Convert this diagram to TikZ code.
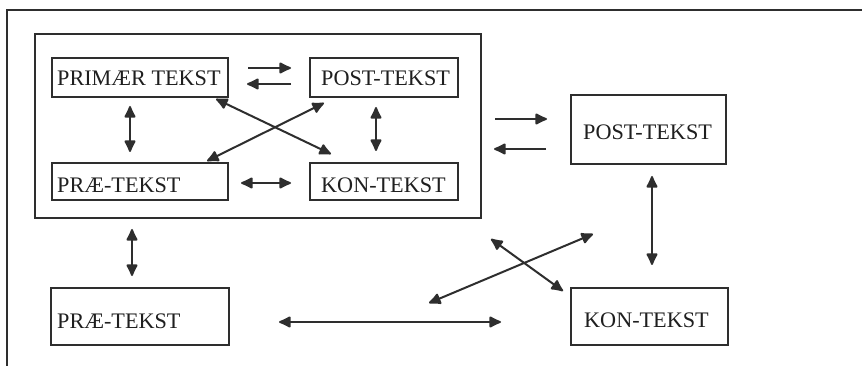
\documentclass[tikz,border=0pt]{standalone}
\usepackage{fontspec}
\setmainfont{Liberation Serif}
\usetikzlibrary{arrows.meta}
\begin{document}
\begin{tikzpicture}[x=1pt,y=-1pt,
  ink/.style={draw=black!82},
  box/.style={ink, line width=2pt, rectangle, inner sep=0pt},
  lbl/.style={anchor=base west, inner sep=0pt, font=\fontsize{22.2}{25}\selectfont, text=black!88},
  conn/.style={ink, line width=2pt},
  tip/.tip={Latex[length=14pt,width=13pt,round]},
  one/.style={conn, -tip},
  two/.style={conn, tip-tip}]
\useasboundingbox (0,0) rectangle (865,366);
\fill[white] (0,0) rectangle (865,366);

% open outer frame: top and left sides only
\draw[ink, line width=2pt] (7,366) -- (7,10) -- (862,10);

% inner frame
\node[box, minimum width=446pt, minimum height=184pt] (frame) at (258,126) {};

% boxes inside the frame
\node[box, minimum width=176pt, minimum height=39pt] (prim) at (140,77.5) {};
\node[lbl] (primt) at (57,86) {PRIMÆR TEKST};
\node[box, minimum width=148pt, minimum height=39pt] (posti) at (384,77.5) {};
\node[lbl] (postit) at (321,86) {POST-TEKST};
\node[box, minimum width=176pt, minimum height=37pt] (praei) at (140,181.5) {};
\node[lbl] (praeit) at (57,193) {PRÆ-TEKST};
\node[box, minimum width=148pt, minimum height=37pt] (koni) at (384,181.5) {};
\node[lbl] (konit) at (321,193) {KON-TEKST};

% outer boxes
\node[box, minimum width=155pt, minimum height=69pt] (posto) at (648.5,129.5) {};
\node[lbl] (postot) at (583,140) {POST-TEKST};
\node[box, minimum width=157pt, minimum height=57pt] (kono) at (649.5,316.5) {};
\node[lbl] (konot) at (584,327) {KON-TEKST};
\node[box, minimum width=178pt, minimum height=57pt] (praeo) at (140,316.5) {};
\node[lbl] (praeot) at (57,328) {PRÆ-TEKST};

% arrow end points
\coordinate (a1) at (248,68);  \coordinate (a2) at (291,68);
\coordinate (b1) at (291,84);  \coordinate (b2) at (247,84);
\coordinate (c1) at (130,106); \coordinate (c2) at (130,152);
\coordinate (d1) at (376,107); \coordinate (d2) at (376,151);
\coordinate (e1) at (241,183); \coordinate (e2) at (291,183);
\coordinate (f1) at (216,99);  \coordinate (f2) at (331,154);
\coordinate (g1) at (207,161); \coordinate (g2) at (324,103);
\coordinate (h1) at (495,119); \coordinate (h2) at (547,119);
\coordinate (i1) at (546,149); \coordinate (i2) at (494,149);
\coordinate (j1) at (652,176); \coordinate (j2) at (652,265);
\coordinate (k1) at (132,229); \coordinate (k2) at (132,276);
\coordinate (l1) at (491,239); \coordinate (l2) at (563,291);
\coordinate (m1) at (429,303); \coordinate (m2) at (593,234);
\coordinate (n1) at (279,322); \coordinate (n2) at (501,322);

% connectors
\draw[one] (a1) -- (a2);
\draw[one] (b1) -- (b2);
\draw[two] (c1) -- (c2);
\draw[two] (d1) -- (d2);
\draw[two] (e1) -- (e2);
\draw[two] (f1) -- (f2);
\draw[two] (g1) -- (g2);
\draw[one] (h1) -- (h2);
\draw[one] (i1) -- (i2);
\draw[two] (j1) -- (j2);
\draw[two] (k1) -- (k2);
\draw[two] (l1) -- (l2);
\draw[two] (m1) -- (m2);
\draw[two] (n1) -- (n2);
\end{tikzpicture}
\end{document}
